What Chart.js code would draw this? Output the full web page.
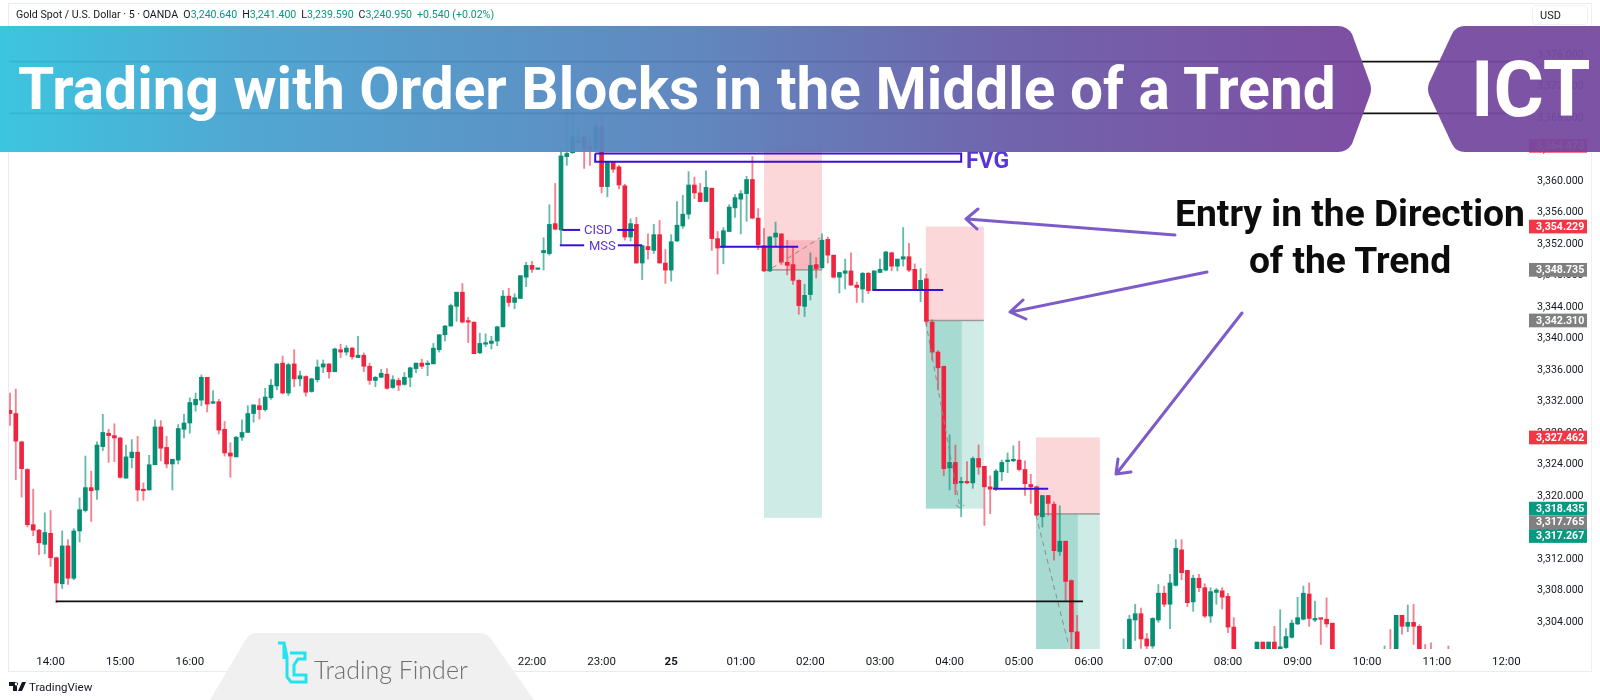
<!DOCTYPE html>
<html>
<head>
<meta charset="utf-8">
<title>Trading with Order Blocks in the Middle of a Trend</title>
<script src="https://cdn.jsdelivr.net/npm/chart.js@4/dist/chart.umd.min.js"></script>
<style>
  html, body { margin: 0; padding: 0; background: #fff; }
  #stage { position: relative; width: 1600px; height: 700px; overflow: hidden; font-family: Roboto, sans-serif; }
  #chart { position: absolute; left: 0; top: 0; }
  #frame { position: absolute; left: 8px; top: 3px; width: 1584px; height: 669px; border: 1px solid #ebebeb; border-right-color: #f0f0f0; box-sizing: border-box; pointer-events: none; }
  #legend { position: absolute; left: 16px; top: 7px; font-size: 10.6px; line-height: 15px; color: #131722; white-space: nowrap; }
  #legend b { font-weight: 400; color: #089981; margin-right: 5px; }
  #usd { position: absolute; left: 1532px; top: 5px; width: 56px; height: 20px; border: 1px solid #f0f0f0; border-radius: 4px; box-sizing: border-box; font-size: 11px; line-height: 19px; padding-left: 7px; color: #131722; }
  .banner { position: absolute; top: 26px; height: 126px; color: #fff; font-weight: 700; white-space: nowrap; }
  #title { left: 0; width: 1372px; font-size: 58.6px; line-height: 126px; padding-left: 18px; box-sizing: border-box;
    background: linear-gradient(90deg, rgba(50,194,222,.95) 0%, rgba(72,162,208,.95) 18%, rgba(88,130,188,.95) 50%, rgba(106,90,168,.95) 75%, rgba(120,68,158,.95) 100%);
    clip-path: path('M0 0 H1338 Q1347 0 1352 8 L1370 57 Q1372 63 1370 69 L1352 118 Q1347 126 1338 126 H0 Z'); }
  #ict { left: 1427px; width: 173px; font-size: 77px; line-height: 128px; text-align: left; padding-left: 44px; box-sizing: border-box;
    background: rgba(118,74,160,.95);
    clip-path: path('M173 0 H38 Q29 0 25 8 L2 57 Q0 63 2 69 L25 118 Q29 126 38 126 H173 Z'); }
  .note { position: absolute; left: 1150px; width: 400px; text-align: center; font-family: Roboto, sans-serif; font-weight: 700; font-size: 37.2px; line-height: 44px; color: #0c0c0c; }
  .tag { position: absolute; color: #5a35d6; font-family: Roboto, sans-serif; white-space: nowrap; }
  #arrows { position: absolute; left: 0; top: 0; pointer-events: none; }
  #watermark { position: absolute; left: 210px; top: 633px; width: 324px; height: 67px; background: #f0f0f0;
    clip-path: path('M0 67 L36 6 Q40 0 47 0 H270 Q277 0 281 6 L324 67 Z'); }
  #brand { position: absolute; left: 104px; top: 21px; font-family: Lato, sans-serif; font-weight: 300; font-size: 25px; line-height: 30px; color: #6f6f6f; white-space: nowrap; }
  #tv { position: absolute; left: 29px; top: 680px; font-size: 11.5px; line-height: 14px; color: #131722; }
</style>
</head>
<body>
<div id="stage">
  <canvas id="chart" width="1600" height="700"></canvas>
  <div id="frame"></div>
  <div id="legend">Gold Spot / U.S. Dollar · 5 · OANDA &nbsp;O<b>3,240.640</b>H<b>3,241.400</b>L<b>3,239.590</b>C<b>3,240.950</b><b>+0.540 (+0.02%)</b></div>
  <div id="usd">USD</div>
  <div class="tag" style="left:584px;top:222px;font-size:13px;line-height:16px;">CISD</div>
  <div class="tag" style="left:589px;top:238px;font-size:13px;line-height:16px;">MSS</div>
  <div class="tag" style="left:966px;top:147px;font-size:23px;line-height:28px;font-weight:700;">FVG</div>
  <div class="note" style="top:191px;">Entry in the Direction</div>
  <div class="note" style="top:238px;">of the Trend</div>
  <svg id="arrows" width="1600" height="700" fill="none" stroke="#7d5cc9" stroke-width="3" stroke-linecap="round" stroke-linejoin="round">
    <path d="M1175 235 L967 219 M978 209 L966 219 L977 229"/>
    <path d="M1207 272 L1011 312 M1023 300 L1010 312 L1026 319"/>
    <path d="M1242 313 L1117 473 M1118 459 L1116 474 L1131 472"/>
  </svg>
  <div id="title" class="banner">Trading with Order Blocks in the Middle of a Trend</div>
  <div id="ict" class="banner">ICT</div>
  <div id="watermark">
    <svg style="position:absolute;left:66px;top:8px" width="32" height="44" fill="none" stroke="#22e3ee" stroke-width="3">
      <path d="M2 2 H8 L11 16 V36 L15 41 H30 V34 H18 V24 L22 18 H29 V12 H14 M8 2 V18"/>
    </svg>
    <div id="brand">Trading Finder</div>
  </div>
  <svg style="position:absolute;left:9px;top:682px" width="18" height="10" fill="#131722"><path d="M0 0 H8 V9 H4 V4 H0 Z M9 2 A1.6 1.6 0 1 0 9 2.01 M13 0 H17 L13 9 H9 Z"/></svg>
  <div id="tv">TradingView</div>
</div>
<script>
// 5 minute candles, nulls sit below the visible range
const opens = [
  3330.9,3330.5,3326.9,3323.4,3316.4,3315.7,3313.9,3315.3,3312.2,3308.9,
  3313.7,3309.6,3315.6,3318.2,3321.1,3320.8,3326.3,3328.0,3327.7,3327.4,
  3322.3,3324.9,3325.6,3320.9,3320.8,3324.0,3328.8,3326.2,3324.1,3324.6,
  3328.5,3329.3,3331.6,3332.2,3335.1,3331.8,3332.0,3328.5,3325.5,3325.0,
  3327.5,3328.1,3330.5,3331.5,3331.0,3332.5,3334.0,3336.9,3333.1,3336.8,
  3334.9,3335.2,3333.3,3334.8,3336.4,3336.8,3335.8,3338.6,3338.3,3338.8,
  3337.6,3337.9,3336.5,3334.7,3335.1,3335.5,3333.8,3334.7,3334.2,3335.1,
  3336.2,3336.9,3336.7,3336.8,3338.6,3340.5,3341.6,3344.1,3345.9,3342.2,
  3342.1,3338.2,3339.3,3339.4,3339.7,3341.5,3345.4,3344.6,3345.1,3347.8,
  3349.3,3348.8,3350.9,3350.8,3354.6,3353.8,3363.1,3363.6,3364.9,3365.6,
  3364.4,3364.0,3367.0,3359.3,3362.4,3361.8,3359.4,3352.9,3354.5,3349.6,
  3351.7,3351.2,3353.2,3349.6,3348.7,3352.4,3354.3,3355.8,3359.5,3358.5,
  3357.4,3359.1,3352.7,3351.6,3353.6,3356.6,3357.7,3358.4,3360.2,3355.3,
  3351.8,3348.6,3352.9,3353.3,3349.7,3349.4,3347.4,3344.1,3345.6,3349.4,
  3349.0,3352.6,3350.6,3347.8,3348.3,3348.6,3346.8,3346.3,3348.3,3346.1,
  3348.4,3348.7,3350.9,3349.2,3350.1,3350.4,3348.8,3346.1,3347.6,3342.1,
  3338.3,3336.5,3323.6,3324.3,3321.7,3321.9,3321.7,3324.8,3323.8,3321.2,
  3321.0,3323.1,3324.4,3324.5,3324.6,3323.4,3321.5,3321.2,3317.4,3320.1,
  3319.0,3313.0,3314.3,3309.3,3302.8,null,null,null,null,null,
  null,null,3299,3299,3304.3,3305.1,3301.9,3301.0,3304.3,3307.7,
  3306.3,3308.7,3313.2,3310.6,3306.6,3309.6,3308.4,3304.8,3307.8,3308.0,
  3307.3,3303.4,null,null,null,3299,3301.5,3299,3301.5,3299,
  3300.8,3302.1,3303.8,3304.4,3307.6,3304.3,3304.5,3304.4,3303.9,null,
  null,null,null,null,null,null,null,3299.5,3300,3299,
  3304.9,3303.5,3304.0,3303.5,3300,3300,null,null,3300
];
const highs = [
  3333.1,3333.6,3327.0,3323.5,3320.9,3315.8,3317.9,3318.2,3312.3,3315.6,
  3314.5,3315.9,3319.8,3325.1,3323.2,3326.9,3330.4,3328.5,3329.2,3327.5,
  3326.5,3327.2,3327.6,3321.7,3325.2,3329.7,3329.6,3327.6,3324.7,3329.1,
  3330.4,3332.5,3333.1,3335.4,3335.1,3333.4,3332.3,3329.5,3326.8,3327.6,
  3329.7,3331.5,3331.6,3332.4,3333.7,3334.8,3336.8,3337.8,3336.9,3338.6,
  3335.9,3335.3,3335.0,3337.3,3337.3,3336.8,3338.8,3339.3,3339.1,3338.9,
  3340.3,3338.2,3336.9,3335.2,3336.1,3336.2,3335.3,3335.0,3335.7,3336.4,
  3336.9,3337.4,3337.2,3339.4,3340.5,3341.7,3344.4,3345.9,3347.0,3342.7,
  3342.1,3340.7,3340.6,3340.3,3341.6,3346.1,3346.4,3345.7,3348.0,3349.7,
  3349.8,3348.9,3352.8,3357.0,3359.7,3364.0,3370.3,3370.3,3366.5,3365.6,
  3365.6,3367.5,3368.2,3362.5,3362.5,3362.0,3359.6,3355.2,3355.4,3351.8,
  3353.3,3354.5,3355.0,3351.3,3353.2,3357.4,3358.2,3361.2,3360.5,3359.7,
  3361.3,3359.1,3353.6,3354.1,3357.0,3358.3,3358.8,3360.6,3363.1,3356.5,
  3354.0,3353.0,3354.8,3353.3,3352.5,3351.6,3347.5,3346.9,3350.9,3350.3,
  3353.3,3352.9,3350.6,3348.4,3350.1,3350.9,3347.2,3348.4,3348.4,3348.6,
  3350.1,3351.1,3351.0,3350.1,3354.1,3352.1,3349.5,3348.9,3348.2,3342.4,
  3338.5,3336.5,3327.8,3326.5,3322.4,3324.4,3325.0,3326.5,3323.8,3322.6,
  3323.4,3324.6,3325.5,3326.4,3327.0,3324.5,3322.8,3321.3,3320.1,3320.1,
  3319.3,3318.8,3314.3,3309.4,3304.9,null,null,null,null,null,
  null,null,3301.9,3304.9,3306.3,3305.8,3302.6,3304.6,3308.8,3308.6,
  3310.1,3314.5,3314.5,3310.6,3310.0,3310.1,3308.9,3308.4,3308.3,3308.4,
  3307.7,3304.6,null,null,null,3301.5,3301.5,3301.5,3303.5,3305.6,
  3303.2,3304.3,3307.2,3308.6,3309.0,3306.7,3304.5,3307.1,3303.9,null,
  null,null,null,null,null,null,null,3301.0,3303.1,3304.9,
  3304.9,3306.2,3306.3,3303.7,3301.2,3301.4,null,null,3301.0
];
const lows = [
  3329.0,3322.1,3319.9,3316.1,3315.0,3312.6,3312.7,3311.1,3306.5,3308.3,
  3308.8,3309.4,3314.2,3318.0,3316.8,3319.6,3325.8,3324.3,3324.4,3322.3,
  3322.3,3323.6,3319.4,3319.5,3320.8,3324.0,3324.5,3323.6,3320.8,3324.1,
  3327.4,3328.0,3330.8,3331.5,3330.7,3331.8,3327.9,3325.1,3322.4,3325.0,
  3327.1,3328.1,3329.4,3329.8,3330.8,3332.3,3333.5,3333.0,3332.8,3333.9,
  3334.0,3332.7,3333.2,3334.5,3335.7,3335.0,3335.8,3337.6,3337.9,3337.4,
  3337.6,3335.8,3334.2,3333.9,3335.1,3333.6,3333.7,3333.4,3334.1,3333.9,
  3335.7,3336.2,3335.3,3336.8,3338.3,3339.7,3341.6,3342.2,3342.0,3339.5,
  3338.1,3338.1,3339.0,3338.7,3339.1,3341.5,3344.1,3343.8,3345.1,3346.6,
  3348.4,3348.8,3348.7,3350.6,3353.8,3351.9,3362.0,3363.5,3364.8,3361.6,
  3362.0,3364.0,3358.5,3358.0,3361.1,3359.0,3352.5,3352.4,3349.6,3347.5,
  3350.1,3350.8,3349.6,3347.0,3347.3,3352.3,3354.0,3355.2,3357.8,3357.4,
  3357.4,3351.2,3348.2,3349.5,3353.6,3355.4,3353.3,3354.9,3355.2,3351.3,
  3348.5,3348.5,3351.7,3349.4,3348.1,3346.9,3343.1,3342.8,3344.9,3347.7,
  3348.9,3349.6,3347.7,3345.8,3346.3,3346.8,3344.6,3344.6,3345.7,3346.1,
  3348.4,3348.6,3348.6,3348.6,3349.2,3348.5,3346.1,3344.7,3341.7,3337.3,
  3333.5,3322.6,3320.8,3320.2,3317.4,3321.6,3321.0,3322.8,3316.3,3317.8,
  3320.7,3322.0,3323.0,3324.4,3323.2,3320.1,3319.1,3317.5,3316.1,3317.6,
  3311.9,3312.5,3306.8,3298.4,3298.0,null,null,null,null,null,
  null,null,3298,3298,3301.7,3300.7,3300.6,3300.7,3304.0,3306.0,
  3303.2,3308.6,3309.4,3306.0,3305.4,3307.9,3304.6,3304.0,3306.3,3305.7,
  3302.7,3298,null,null,null,3298,3298,3298,3298,3298,
  3300.7,3302.0,3303.7,3304.3,3303.5,3304.1,3301.2,3303.4,3298,null,
  null,null,null,null,null,null,null,3299,3299,3298,
  3302.5,3302.8,3301.2,3298,3299,3299,null,null,3299
];
const closes = [
  3330.5,3327.0,3323.5,3316.4,3315.7,3314.1,3315.4,3312.2,3309.0,3313.7,
  3309.6,3315.6,3318.3,3321.1,3320.7,3326.5,3328.1,3327.7,3327.4,3322.4,
  3325.0,3325.6,3320.8,3320.7,3324.0,3328.8,3326.1,3324.1,3324.7,3328.6,
  3329.3,3331.9,3332.3,3335.1,3331.7,3332.0,3328.4,3325.5,3325.1,3327.5,
  3328.1,3330.5,3331.6,3331.0,3332.6,3334.1,3336.8,3333.1,3336.7,3334.9,
  3335.3,3333.2,3334.9,3336.4,3336.8,3335.8,3338.7,3338.3,3338.8,3337.7,
  3337.9,3336.5,3334.7,3335.1,3335.6,3333.7,3334.8,3334.1,3335.1,3336.3,
  3336.9,3336.5,3336.9,3338.8,3340.5,3341.6,3344.2,3345.9,3342.1,3342.1,
  3338.1,3339.4,3339.5,3339.7,3341.5,3345.4,3344.6,3345.2,3348.0,3349.3,
  3348.8,3348.9,3351.2,3354.5,3353.9,3363.2,3363.5,3365.6,3365.0,3364.2,
  3364.0,3367.0,3359.3,3362.5,3361.5,3359.5,3352.9,3354.6,3349.6,3351.8,
  3351.3,3353.2,3349.6,3348.7,3352.3,3354.4,3355.8,3359.5,3358.5,3357.4,
  3359.2,3352.7,3351.5,3353.7,3356.7,3357.9,3358.4,3360.2,3355.3,3351.9,
  3348.6,3352.9,3353.4,3349.7,3349.3,3347.4,3344.2,3345.5,3349.3,3348.9,
  3352.5,3350.6,3347.8,3348.4,3348.6,3346.8,3346.5,3348.3,3346.1,3348.6,
  3348.8,3351.0,3349.2,3350.1,3350.4,3348.7,3346.1,3347.4,3342.2,3338.3,
  3336.3,3323.5,3324.3,3321.6,3321.9,3321.7,3324.8,3323.7,3321.2,3320.9,
  3323.2,3324.3,3324.6,3324.7,3323.4,3321.6,3321.2,3317.6,3320.1,3319.1,
  3313.1,3314.3,3309.2,3302.8,3299,null,null,null,null,null,
  null,null,3300,3304.4,3305.1,3301.9,3301.0,3304.5,3307.7,3306.3,
  3309.0,3313.4,3310.3,3306.5,3309.6,3308.4,3304.8,3307.9,3308.1,3307.2,
  3303.4,3299,null,null,null,3301.5,3299,3301.5,3299,3300.9,
  3302.2,3303.9,3304.6,3307.7,3304.5,3304.5,3304.4,3303.8,3299,null,
  null,null,null,null,null,null,null,3300,3299.5,3304.9,
  3303.5,3304.0,3303.5,3299,3299.5,3299.5,null,null,3299.5
];

const priceTicks = [3304,3308,3312,3316,3320,3324,3328,3332,3336,3340,3344,3348,3352,3356,3360,3364,3368,3372,3376];
const timeTickIndex = [7,19,31,43,54,66,78,90,102,114,126,138,150,162,174,186,198,210,222,234,246,258];
const timeTickLabels = ['14:00','15:00','16:00','17:00','19:00','20:00','21:00','22:00','23:00','25','01:00','02:00','03:00','04:00','05:00','06:00','07:00','08:00','09:00','10:00','11:00','12:00'];

// drawings, in candle index and price
const blackLevels = [[-0.1, 261.7, 3375.15], [-0.1, 261.7, 3368.6], [7.9, 185, 3306.67]];
const purpleLevels = [
  [95.2, 98.3, 3353.8], [104.7, 107.6, 3353.8],
  [94.8, 99, 3351.85], [104.8, 109, 3351.85],
  [122.4, 135.9, 3351.67], [148.8, 160.9, 3346.18], [169.5, 179, 3320.96]
];
const fvgBox = [100.9, 164, 3363.5, 3362.46];
const dashedPaths = [
  [[131.4, 3348.97], [139.7, 3352.8]],
  [[157.9, 3342.1], [163.8, 3318.5]],
  [[163.1, 3318.9], [163.8, 3318.5], [164.5, 3318.9]],
  [[176.9, 3317.6], [182.4, 3301.5]]
];
// start, end, entry, stop, target
const positionZones = [
  [130, 140, 3348.735, 3364.473, 3317.267],
  [157.9, 167.9, 3342.31, 3354.229, 3318.435],
  [176.9, 187.9, 3317.765, 3327.462, 3300]
];
// start, end, price from, price to
const overlapReds = [[134.1, 140, 3352.5, 3348.735]];
const overlapGreens = [[157.9, 164.1, 3342.31, 3318.435], [176.9, 184.1, 3317.765, 3300]];

const pillValues = [3364.473, 3354.229, 3348.735, 3342.31, 3327.462, 3318.435, 3317.765, 3317.267];
const pillKinds = ['red', 'red', 'gray', 'gray', 'red', 'green', 'gray', 'green'];

const RED = '#f0243f', GREEN = '#078f76';
const PILL = { red: '#f23645', gray: '#808080', green: '#089981' };
const indexes = opens.map((_, i) => i);
const isUp = i => closes[i] >= opens[i];

const fmtPrice = v => v.toFixed(3).replace(/^(\d)(\d{3})/, '$1,$2');

const levelLine = (color, width, from, to, price) => ({
  type: 'line', order: 1, data: [{ x: from, y: price }, { x: to, y: price }],
  borderColor: color, borderWidth: width, pointRadius: 0, tension: 0
});

const zonesPlugin = {
  id: 'zones',
  beforeDatasetsDraw(chart) {
    const { ctx, scales: { x, y }, chartArea: a } = chart;
    const rect = (x0, x1, p0, p1, color) => {
      const left = x.getPixelForValue(x0), right = x.getPixelForValue(x1);
      const top = y.getPixelForValue(Math.max(p0, p1)), bottom = y.getPixelForValue(Math.min(p0, p1));
      ctx.fillStyle = color;
      ctx.fillRect(left, top, right - left, bottom - top);
    };
    ctx.save();
    ctx.beginPath();
    ctx.rect(a.left, a.top, a.width, a.height);
    ctx.clip();
    positionZones.forEach(([s, e, entry, stop, target]) => {
      rect(s, e, entry, stop, 'rgba(242,54,69,.2)');
      rect(s, e, entry, target, 'rgba(8,153,129,.2)');
    });
    overlapReds.forEach(([s, e, p0, p1]) => rect(s, e, p0, p1, 'rgba(242,54,69,.2)'));
    overlapGreens.forEach(([s, e, p0, p1]) => rect(s, e, p0, p1, 'rgba(8,153,129,.2)'));
    positionZones.forEach(([s, e, entry]) => {
      ctx.fillStyle = '#9a9a9a';
      ctx.fillRect(x.getPixelForValue(s), y.getPixelForValue(entry) - 0.75, x.getPixelForValue(e) - x.getPixelForValue(s), 1.5);
    });
    ctx.restore();
  }
};

// price labels on the axis, pushed down when they would overlap
const pillsPlugin = {
  id: 'pills',
  afterDraw(chart) {
    const { ctx, scales: { y } } = chart;
    let prev = -100;
    ctx.save();
    ctx.font = '700 10.6px Roboto';
    ctx.textBaseline = 'middle';
    pillValues.forEach((v, i) => {
      const py = Math.max(y.getPixelForValue(v), prev + 13.7);
      prev = py;
      ctx.fillStyle = PILL[pillKinds[i]];
      ctx.fillRect(1529, py - 6.85, 58, 13.7);
      ctx.fillStyle = '#fff';
      ctx.fillText(fmtPrice(v), 1536, py + 0.5);
    });
    ctx.restore();
  }
};

new Chart(document.getElementById('chart'), {
  type: 'bar',
  plugins: [zonesPlugin, pillsPlugin],
  data: {
    datasets: [
      {
        label: 'wicks', order: 3, grouped: false, barThickness: 1.2,
        data: indexes.filter(i => highs[i] !== null).map(i => ({ x: i, y: [lows[i], highs[i]] })),
        backgroundColor: indexes.filter(i => highs[i] !== null).map(i => isUp(i) ? 'rgba(7,143,118,.62)' : 'rgba(240,36,63,.58)')
      },
      {
        label: 'bodies', order: 2, grouped: false, barThickness: 4, minBarLength: 1.5,
        data: indexes.filter(i => opens[i] !== null).map(i => ({ x: i, y: [opens[i], closes[i]] })),
        backgroundColor: indexes.filter(i => opens[i] !== null).map(i => isUp(i) ? GREEN : RED)
      },
      ...blackLevels.map(([a, b, p]) => levelLine('#111', 1.8, a, b, p)),
      ...purpleLevels.map(([a, b, p]) => levelLine('#3a10d4', 2, a, b, p)),
      {
        type: 'line', order: 1, pointRadius: 0, borderColor: '#3a10d4', borderWidth: 2, tension: 0,
        data: [
          { x: fvgBox[0], y: fvgBox[2] }, { x: fvgBox[1], y: fvgBox[2] },
          { x: fvgBox[1], y: fvgBox[3] }, { x: fvgBox[0], y: fvgBox[3] }, { x: fvgBox[0], y: fvgBox[2] }
        ]
      },
      ...dashedPaths.map(path => ({
        type: 'line', order: 1, pointRadius: 0, borderColor: '#8a8a8a', borderWidth: 1, borderDash: [5, 4], tension: 0,
        data: path.map(([x, y]) => ({ x, y }))
      }))
    ]
  },
  options: {
    responsive: false,
    animation: false,
    layout: { padding: { left: 9, top: 4, right: 8, bottom: 28 } },
    plugins: { legend: { display: false }, tooltip: { enabled: false } },
    scales: {
      x: {
        type: 'linear', offset: false, min: -0.172, max: 261.9,
        grid: { display: false, drawTicks: false, offset: false }, border: { display: false },
        afterBuildTicks: s => { s.ticks = timeTickIndex.map(value => ({ value })); },
        afterFit: s => { s.height = 23; s.paddingLeft = s.paddingRight = 0; },
        ticks: {
          autoSkip: false, maxRotation: 0, padding: 6, color: '#131722',
          font: ctx => ({ family: 'Roboto', size: 11.5, weight: ctx.index === 9 ? '700' : '400' }),
          callback: (v, i) => timeTickLabels[i]
        }
      },
      y: {
        position: 'right', min: 3300.62, max: 3382.47,
        grid: { display: false, drawTicks: false }, border: { display: false },
        afterBuildTicks: s => { s.ticks = priceTicks.map(value => ({ value })); },
        afterFit: s => { s.width = 63; s.paddingTop = s.paddingBottom = 0; },
        ticks: {
          autoSkip: false, padding: 8, color: '#131722',
          font: { family: 'Roboto', size: 10.6 },
          callback: v => fmtPrice(v)
        }
      }
    }
  }
});
</script>
</body>
</html>
